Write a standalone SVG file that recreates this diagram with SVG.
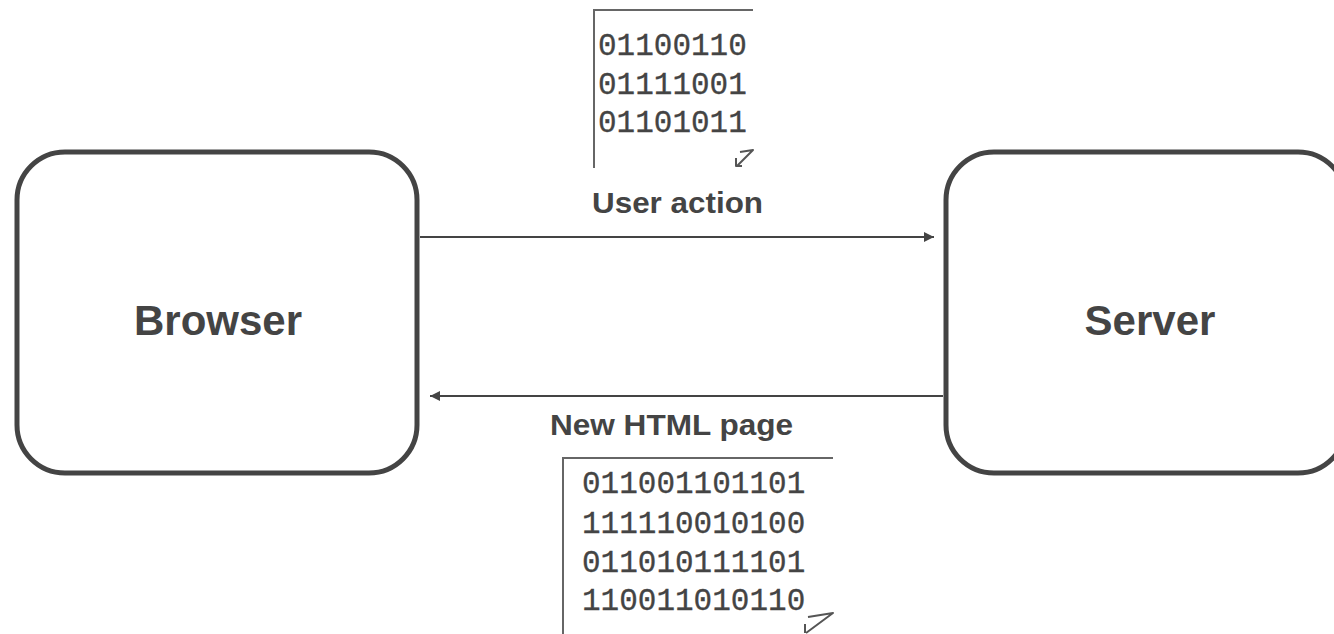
<svg xmlns="http://www.w3.org/2000/svg" width="1334" height="634" viewBox="0 0 1334 634">
<style>
.box{fill:#fff;stroke:#444;stroke-width:5}
.title{font-family:"Liberation Sans",Arial,sans-serif;font-weight:bold;font-size:42px;fill:#444;text-anchor:middle}
.lbl{font-family:"Liberation Sans",Arial,sans-serif;font-weight:bold;font-size:30px;fill:#444}
.bits{font-family:"Liberation Mono","Courier New",monospace;font-size:31px;fill:#444;stroke:#444;stroke-width:0.3}
.frame{fill:none;stroke:#666;stroke-width:2}
.curl{fill:none;stroke:#555;stroke-width:2;stroke-linejoin:round}
.conn{stroke:#444;stroke-width:2;fill:none}
</style>
<defs>
<marker id="ah" viewBox="0 0 10 10" refX="10" refY="5" markerWidth="12" markerHeight="10" markerUnits="userSpaceOnUse" orient="auto">
<path d="M0,0 L10,5 L0,10 z" fill="#444"/>
</marker>
</defs>
<rect width="1334" height="634" fill="#fff"/>
<g id="browser">
<rect class="box" x="17" y="152" width="400" height="321" rx="48" ry="48"/>
<text class="title" x="218" y="335">Browser</text>
</g>
<g id="server">
<rect class="box" x="946" y="152" width="400" height="321" rx="48" ry="48"/>
<text class="title" x="1150" y="335">Server</text>
</g>
<g id="request-data">
<path class="frame" d="M594,168 L594,10 L753,10"/>
<text class="bits" x="598" y="55">01100110</text>
<text class="bits" x="598" y="94">01111001</text>
<text class="bits" x="598" y="132">01101011</text>
<path class="curl" d="M736,158 L736,166 L742,166 M740,152 L753,150 L737,166"/>
</g>
<g id="response-data">
<path class="frame" d="M563,634 L563,458 L833,458"/>
<text class="bits" x="582" y="493">011001101101</text>
<text class="bits" x="582" y="533">111110010100</text>
<text class="bits" x="582" y="572">011010111101</text>
<text class="bits" x="582" y="610">110011010110</text>
<path class="curl" d="M805,624 L805,633 M808,617 L833,613 L806,633"/>
</g>
<g id="connectors">
<line class="conn" x1="420" y1="237" x2="934" y2="237" marker-end="url(#ah)"/>
<text class="lbl" x="592" y="213" textLength="171" lengthAdjust="spacingAndGlyphs">User action</text>
<line class="conn" x1="943" y1="396" x2="430" y2="396" marker-end="url(#ah)"/>
<text class="lbl" x="550" y="435" textLength="243" lengthAdjust="spacingAndGlyphs">New HTML page</text>
</g>
</svg>
